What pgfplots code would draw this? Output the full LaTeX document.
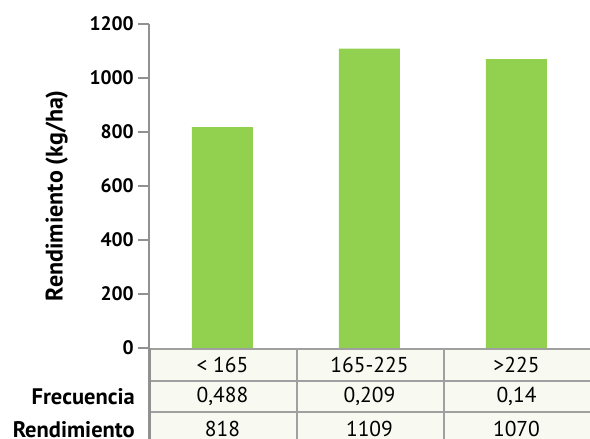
\documentclass[border=0pt]{standalone}
\usepackage{pgfplots}
\pgfplotsset{compat=1.18}
\usepackage{fontspec}
\setmainfont{PT Sans}

\definecolor{bargreen}{RGB}{146,208,80}
\definecolor{linegray}{RGB}{160,160,160}
\definecolor{axisgray}{RGB}{145,145,145}
\definecolor{cellbg}{RGB}{248,250,241}

\newcommand{\cellfont}{\fontsize{21.5}{21.5}\selectfont}
\newcommand{\headfont}{\bfseries\fontsize{22.5}{22.5}\selectfont}
\newcommand{\tickfont}{\bfseries\fontsize{19.5}{19.5}\selectfont}

\begin{document}
\begin{tikzpicture}[x=1pt,y=1pt]
\path[use as bounding box] (0,0) rectangle (590,439);

% data table under the bars
\fill[cellbg] (149,0) rectangle (590,90);
\draw[linegray, line width=2.4pt] (149,90) -- (590,90);
\draw[linegray, line width=2.4pt] (149,58) -- (590,58);
\draw[linegray, line width=2.4pt] (149,27) -- (590,27);
\draw[linegray, line width=2.4pt] (297,0) -- (297,90);
\draw[linegray, line width=2.4pt] (444,0) -- (444,90);
\draw[axisgray, line width=2.4pt] (149.5,0) -- (149.5,91);

\begin{axis}[
  at={(149pt,91pt)}, anchor=south west,
  scale only axis, width=441pt, height=324pt,
  xmin=-0.5, xmax=2.5, ymin=0, ymax=1200,
  axis y line=left, axis x line=none,
  axis line style={-, draw=axisgray, line width=2.4pt},
  ytick={0,200,...,1200},
  tick align=outside, major tick length=11pt,
  tick style={draw=axisgray, line width=2pt},
  xtick=\empty,
  /pgf/number format/assume math mode=true,
  /pgf/number format/1000 sep={},
  yticklabel style={font=\tickfont, inner sep=0pt, xshift=-4pt},
  every axis y label/.style={at={(axis description cs:-0.209,0.47)},
    anchor=center, rotate=90, font=\bfseries\fontsize{24}{24}\selectfont},
  ylabel={Rendimiento (kg/ha)},
  clip=false,
]
\addplot[ybar, bar width=61pt, fill=bargreen, draw=none]
  coordinates {(0,818) (1,1109) (2,1070)};

% table contents
\node[font=\cellfont] at (axis cs:0,0) [yshift=-17pt] {< 165};
\node[font=\cellfont] at (axis cs:1,0) [yshift=-17pt] {165-225};
\node[font=\cellfont] at (axis cs:2,0) [yshift=-17pt] {>225};
\node[font=\cellfont] at (axis cs:0,0) [yshift=-48.5pt] {0,488};
\node[font=\cellfont] at (axis cs:1,0) [yshift=-48.5pt] {0,209};
\node[font=\cellfont] at (axis cs:2,0) [yshift=-48.5pt] {0,14};
\node[font=\cellfont] at (axis cs:0,0) [yshift=-81pt] {818};
\node[font=\cellfont] at (axis cs:1,0) [yshift=-81pt] {1109};
\node[font=\cellfont] at (axis cs:2,0) [yshift=-81pt] {1070};
\end{axis}

\node[font=\headfont, anchor=east, inner sep=0pt] at (135,42.5) {Frecuencia};
\node[font=\headfont, anchor=east, inner sep=0pt] at (135,9) {Rendimiento};
\end{tikzpicture}
\end{document}
